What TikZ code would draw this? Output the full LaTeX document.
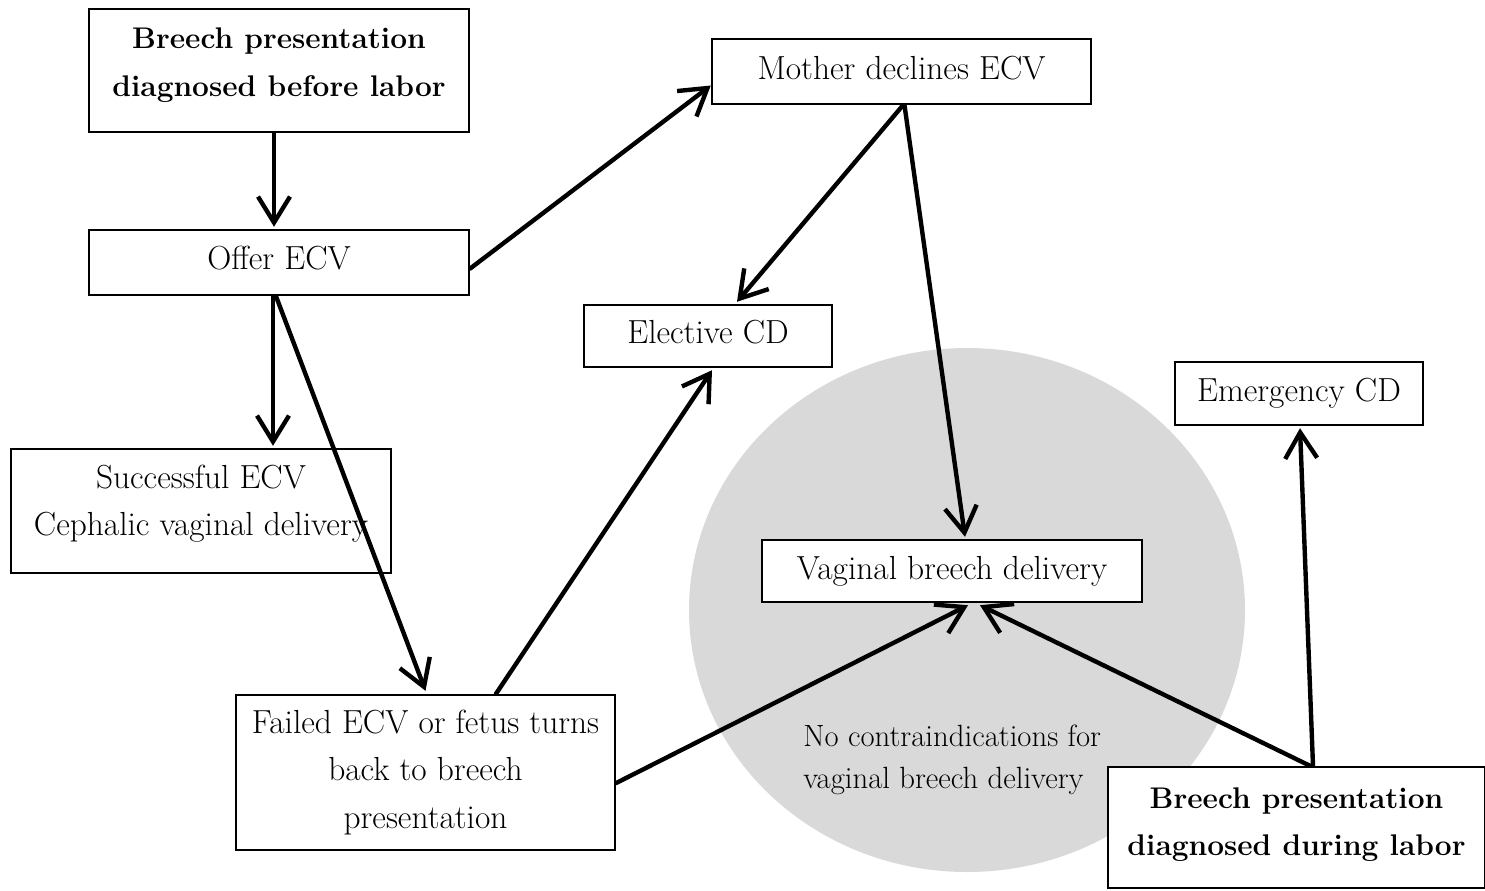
\documentclass[tikz,border=0pt]{standalone}
\usetikzlibrary{arrows.meta,calc}
\definecolor{circgray}{RGB}{217,217,217}
\tikzset{
  box/.style={draw,line width=1.4pt,fill=white,align=center,inner sep=2pt,
    font=\fontsize{19}{27}\selectfont},
  bbox/.style={box,font=\fontsize{17}{27}\selectfont\bfseries},
  flow/.style={-{Straight Barb[length=0.52cm,width=0.64cm,line width=2.5pt]},
    line width=2.5pt,line cap=round,line join=round}
}
\begin{document}
\begin{tikzpicture}[x=0.02cm,y=-0.02cm]
  \useasboundingbox (0,0) rectangle (1485,890);
  % shaded region
  \fill[circgray] (967,610) ellipse[x radius=278*0.02cm,y radius=262*0.02cm];
  \node[align=left,anchor=west,inner sep=0pt,font=\fontsize{17.5}{24}\selectfont] (noci) at (803,760)
    {No contraindications for\\vaginal breech delivery};
  % boxes
  \node[bbox,minimum width=7.6cm,minimum height=2.46cm,text depth=0.34cm] (before) at (279,70.5)
    {Breech presentation\\diagnosed before labor};
  \node[box,minimum width=7.6cm,minimum height=1.3cm,text depth=0.2cm] (offer) at (279,262.5) {Offer ECV};
  \node[box,minimum width=7.6cm,minimum height=2.48cm,text depth=0.42cm] (succ) at (201,511)
    {Successful ECV\\Cephalic vaginal delivery};
  \node[box,minimum width=7.58cm,minimum height=3.1cm] (failed) at (425.5,772.5)
    {Failed ECV or fetus turns\\back to breech\\presentation};
  \node[box,minimum width=7.58cm,minimum height=1.3cm,text depth=0.16cm] (mother) at (901.5,71.5) {Mother declines ECV};
  \node[box,minimum width=4.96cm,minimum height=1.24cm,text depth=0.16cm] (elective) at (708,336) {Elective CD};
  \node[box,minimum width=7.6cm,minimum height=1.24cm] (vbd) at (952,571) {Vaginal breech delivery};
  \node[box,minimum width=4.96cm,minimum height=1.26cm] (emerg) at (1299,393.5) {Emergency CD};
  \node[bbox,minimum width=7.54cm,minimum height=2.42cm,text depth=0.24cm] (during) at (1296.5,827.5)
    {Breech presentation\\diagnosed during labor};
  % connectors
  \draw[flow] ($(before.south)+(-5,0)$) -- ($(offer.north)+(-5,-2)$);
  \draw[flow] ($(offer.east)+(0,6)$) -- ($(mother.west)+(0,14)$);
  \draw[flow] ($(offer.south)+(-6,0)$) -- ($(succ.north)+(72,-2)$);
  \draw[flow] ($(offer.south)+(-3,0)$) -- ($(failed.north)+(0,-3)$);
  \draw[flow] ($(mother.south)+(1.5,0)$) -- ($(elective.north)+(29,-2)$);
  \draw[flow] ($(mother.south)+(3,0)$) -- ($(vbd.north)+(13,-2)$);
  \draw[flow] ($(failed.north)+(70.5,0)$) -- ($(elective.south)+(4,2)$);
  \draw[flow] ($(failed.east)+(0,10.5)$) -- ($(vbd.south)+(16,2)$);
  \draw[flow] ($(during.north)+(13.5,0)$) -- ($(vbd.south)+(28,2)$);
  \draw[flow] ($(during.north)+(16.5,0)$) -- ($(emerg.south)+(1,2)$);
\end{tikzpicture}
\end{document}
